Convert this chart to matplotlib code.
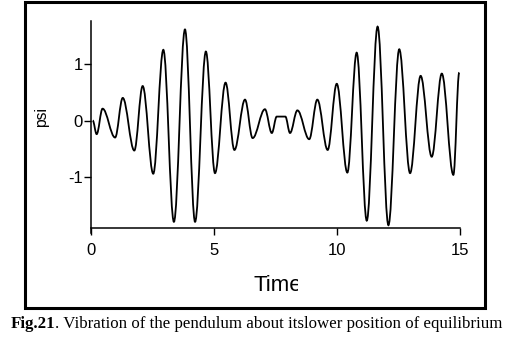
import matplotlib
matplotlib.use('Agg')
import matplotlib.pyplot as plt
from matplotlib.patches import Rectangle, PathPatch
from matplotlib.path import Path
from matplotlib.transforms import Bbox

# extrema of psi (time, psi)
time = [0.07, 0.23, 0.47, 0.98, 1.29, 1.76, 2.10, 2.53, 2.94, 3.37, 3.82, 4.23,
        4.67, 5.04, 5.47, 5.83, 6.26, 6.57, 7.07, 7.35, 7.55, 7.90, 8.09, 8.39,
        8.87, 9.20, 9.62, 9.99, 10.42, 10.80, 11.21, 11.65, 12.09, 12.53, 12.97,
        13.40, 13.85, 14.26, 14.73, 14.97]
psi = [0.00, -0.24, 0.21, -0.30, 0.40, -0.53, 0.61, -0.94, 1.25, -1.79, 1.61, -1.79,
       1.22, -0.93, 0.67, -0.52, 0.37, -0.31, 0.20, -0.22, 0.07, 0.07, -0.22, 0.18,
       -0.33, 0.37, -0.52, 0.65, -0.92, 1.20, -1.77, 1.66, -1.85, 1.26, -0.93,
       0.79, -0.64, 0.83, -0.96, 0.85]

xticks = [0, 5, 10, 15]
yticks = [-1, 0, 1]
caption_bold = 'Fig.21'
caption_rest = '. Vibration of the pendulum about itslower position of equilibrium'

plt.rcParams['font.family'] = ['Liberation Sans', 'DejaVu Sans']
plt.rcParams['axes.unicode_minus'] = False

fig = plt.figure(figsize=(5.13, 3.42), dpi=100)
ax = fig.add_axes([0.1774, 0.3333, 0.7193, 0.6053])

# smooth curve between the extrema (horizontal tangent at each turning point)
verts = [(time[0], psi[0])]
codes = [Path.MOVETO]
for i in range(1, len(time)):
    d = time[i] - time[i - 1]
    verts += [(time[i - 1] + 0.3642 * d, psi[i - 1]),
              (time[i] - 0.3642 * d, psi[i]),
              (time[i], psi[i])]
    codes += [Path.CURVE4] * 3
ax.add_patch(PathPatch(Path(verts, codes), fill=False, edgecolor='black', linewidth=1.3))

ax.set_xlim(0, 15)
ax.set_ylim(-1.90, 1.76)
ax.set_xticks(xticks)
ax.set_yticks(yticks)
ax.tick_params(direction='out', length=5, width=1, labelsize=12)
ax.tick_params(axis='y', pad=1)
ax.tick_params(axis='x', pad=6)
for s in ['top', 'right']:
    ax.spines[s].set_visible(False)
for s in ['left', 'bottom']:
    ax.spines[s].set_linewidth(1.1)
# y axis line runs a little past the x axis in the original
ax.spines['left'].set_bounds(-1.99, 1.76)

ax.set_ylabel('psi', fontsize=11.3)
ax.yaxis.set_label_coords(-0.1125, 0.536)
tl = ax.set_xlabel('Time', fontsize=16)
ax.xaxis.set_label_coords(0.506, -0.227)
# the last letter is cut off in the original
tl.set_clip_box(Bbox.from_extents(0, 0, 298, 342))
tl.set_clip_on(True)

# frame around the figure
fig.patches.append(Rectangle((0.0487, 0.0994), 0.8967, 0.8946, transform=fig.transFigure,
                             fill=False, edgecolor='black', linewidth=2.2))

t1 = fig.text(0.02, 0.03, caption_bold, fontsize=12.15, fontweight='bold',
              family='Liberation Serif', ha='left', va='bottom')
t2 = fig.text(0, 0.03, caption_rest, fontsize=12.15, family='Liberation Serif',
              ha='left', va='bottom')
fig.canvas.draw()
bb = t1.get_window_extent()
t2.set_position((bb.x1 / fig.bbox.width, 0.03))

fig.savefig('out.png', dpi=100)
